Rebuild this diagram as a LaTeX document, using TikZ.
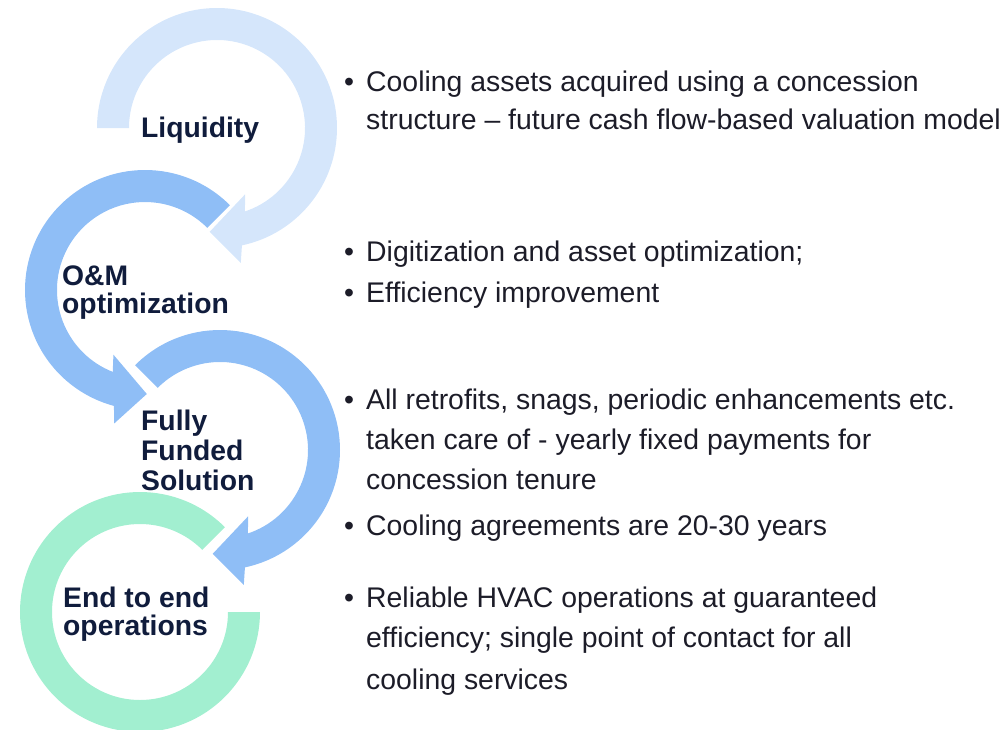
\documentclass[tikz,border=0pt]{standalone}
\usepackage{fontspec}
\setmainfont{Liberation Sans}
\usetikzlibrary{calc}

\definecolor{ringlight}{HTML}{D5E6FB}
\definecolor{ringmid}{HTML}{8FBEF6}
\definecolor{ringgreen}{HTML}{A2EFD0}
\definecolor{labelnavy}{HTML}{101C3C}
\definecolor{bodytext}{HTML}{1C1C28}

\begin{document}
\begin{tikzpicture}[x=1pt,y=1pt,
  steplabel/.style={font=\fontsize{28.3}{31}\selectfont\bfseries, text=labelnavy, inner sep=0pt, anchor=base west},
  bodyline/.style={font=\fontsize{28.4}{39}\selectfont, text=bodytext, inner sep=0pt, anchor=base west},
  bulletmark/.style={bodyline}]
\useasboundingbox (0,0) rectangle (1005,-729);
\clip (0,0) rectangle (1005,-729);

% centres of the four rings
\coordinate (c1) at (217,-128);
\coordinate (c2) at (145,-290);
\coordinate (c3) at (220,-450);
\coordinate (c4) at (140,-612);

% ring 1: clockwise from the left, arrow head at the bottom
\fill[ringlight] ($(c1)+(180:120pt)$) arc[start angle=180, end angle=-78, radius=120pt]
  -- ($(c1)+(-80:137pt)$) -- ($(c1)+(-94:104pt)$) -- ($(c1)+(-67:72pt)$)
  -- ($(c1)+(-71.5:88pt)$) arc[start angle=-71.5, end angle=180, radius=88pt] -- cycle;

% ring 2: anticlockwise from the upper right
\fill[ringmid] ($(c2)+(45:120pt)$) arc[start angle=45, end angle=255, radius=120pt]
  -- ($(c2)+(257:137pt)$) -- ($(c2)+(271:104pt)$) -- ($(c2)+(244:72pt)$)
  -- ($(c2)+(248.5:88pt)$) arc[start angle=248.5, end angle=45, radius=88pt] -- cycle;

% ring 3: clockwise from the upper left
\fill[ringmid] ($(c3)+(135:120pt)$) arc[start angle=135, end angle=-78, radius=120pt]
  -- ($(c3)+(-80:137pt)$) -- ($(c3)+(-94:104pt)$) -- ($(c3)+(-67:72pt)$)
  -- ($(c3)+(-71.5:88pt)$) arc[start angle=-71.5, end angle=135, radius=88pt] -- cycle;

% ring 4: open ring without a head
\fill[ringgreen] ($(c4)+(45:120pt)$) arc[start angle=45, end angle=360, radius=120pt]
  -- ($(c4)+(0:88pt)$) arc[start angle=360, end angle=45, radius=88pt] -- cycle;

% ring labels
\node[steplabel] (liq) at (141,-137) {Liquidity};
\node[steplabel] (om1) at (62,-285) {O\&M};
\node[steplabel] (om2) at (62,-313) {optimization};
\node[steplabel] (ff1) at (141,-430) {Fully};
\node[steplabel] (ff2) at (141,-460) {Funded};
\node[steplabel] (ff3) at (141,-490) {Solution};
\node[steplabel] (ee1) at (63,-607) {End to end};
\node[steplabel] (ee2) at (63,-635) {operations};

% bullet text
\node[bulletmark] (b1) at (344,-91) {\textbullet};
\node[bodyline] (t1a) at (366,-91) {Cooling assets acquired using a concession};
\node[bodyline] (t1b) at (366,-129) {structure – future cash flow-based valuation model};

\node[bulletmark] (b2) at (344,-261) {\textbullet};
\node[bodyline] (t2) at (366,-261) {Digitization and asset optimization;};
\node[bulletmark] (b3) at (344,-302) {\textbullet};
\node[bodyline] (t3) at (366,-302) {Efficiency improvement};

\node[bulletmark] (b4) at (344,-409) {\textbullet};
\node[bodyline] (t4a) at (366,-409) {All retrofits, snags, periodic enhancements etc.};
\node[bodyline] (t4b) at (366,-449) {taken care of - yearly fixed payments for};
\node[bodyline] (t4c) at (366,-489) {concession tenure};
\node[bulletmark] (b5) at (344,-535) {\textbullet};
\node[bodyline] (t5) at (366,-535) {Cooling agreements are 20-30 years};

\node[bulletmark] (b6) at (344,-607) {\textbullet};
\node[bodyline] (t6a) at (366,-607) {Reliable HVAC operations at guaranteed};
\node[bodyline] (t6b) at (366,-647) {efficiency; single point of contact for all};
\node[bodyline] (t6c) at (366,-689) {cooling services};
\end{tikzpicture}
\end{document}
